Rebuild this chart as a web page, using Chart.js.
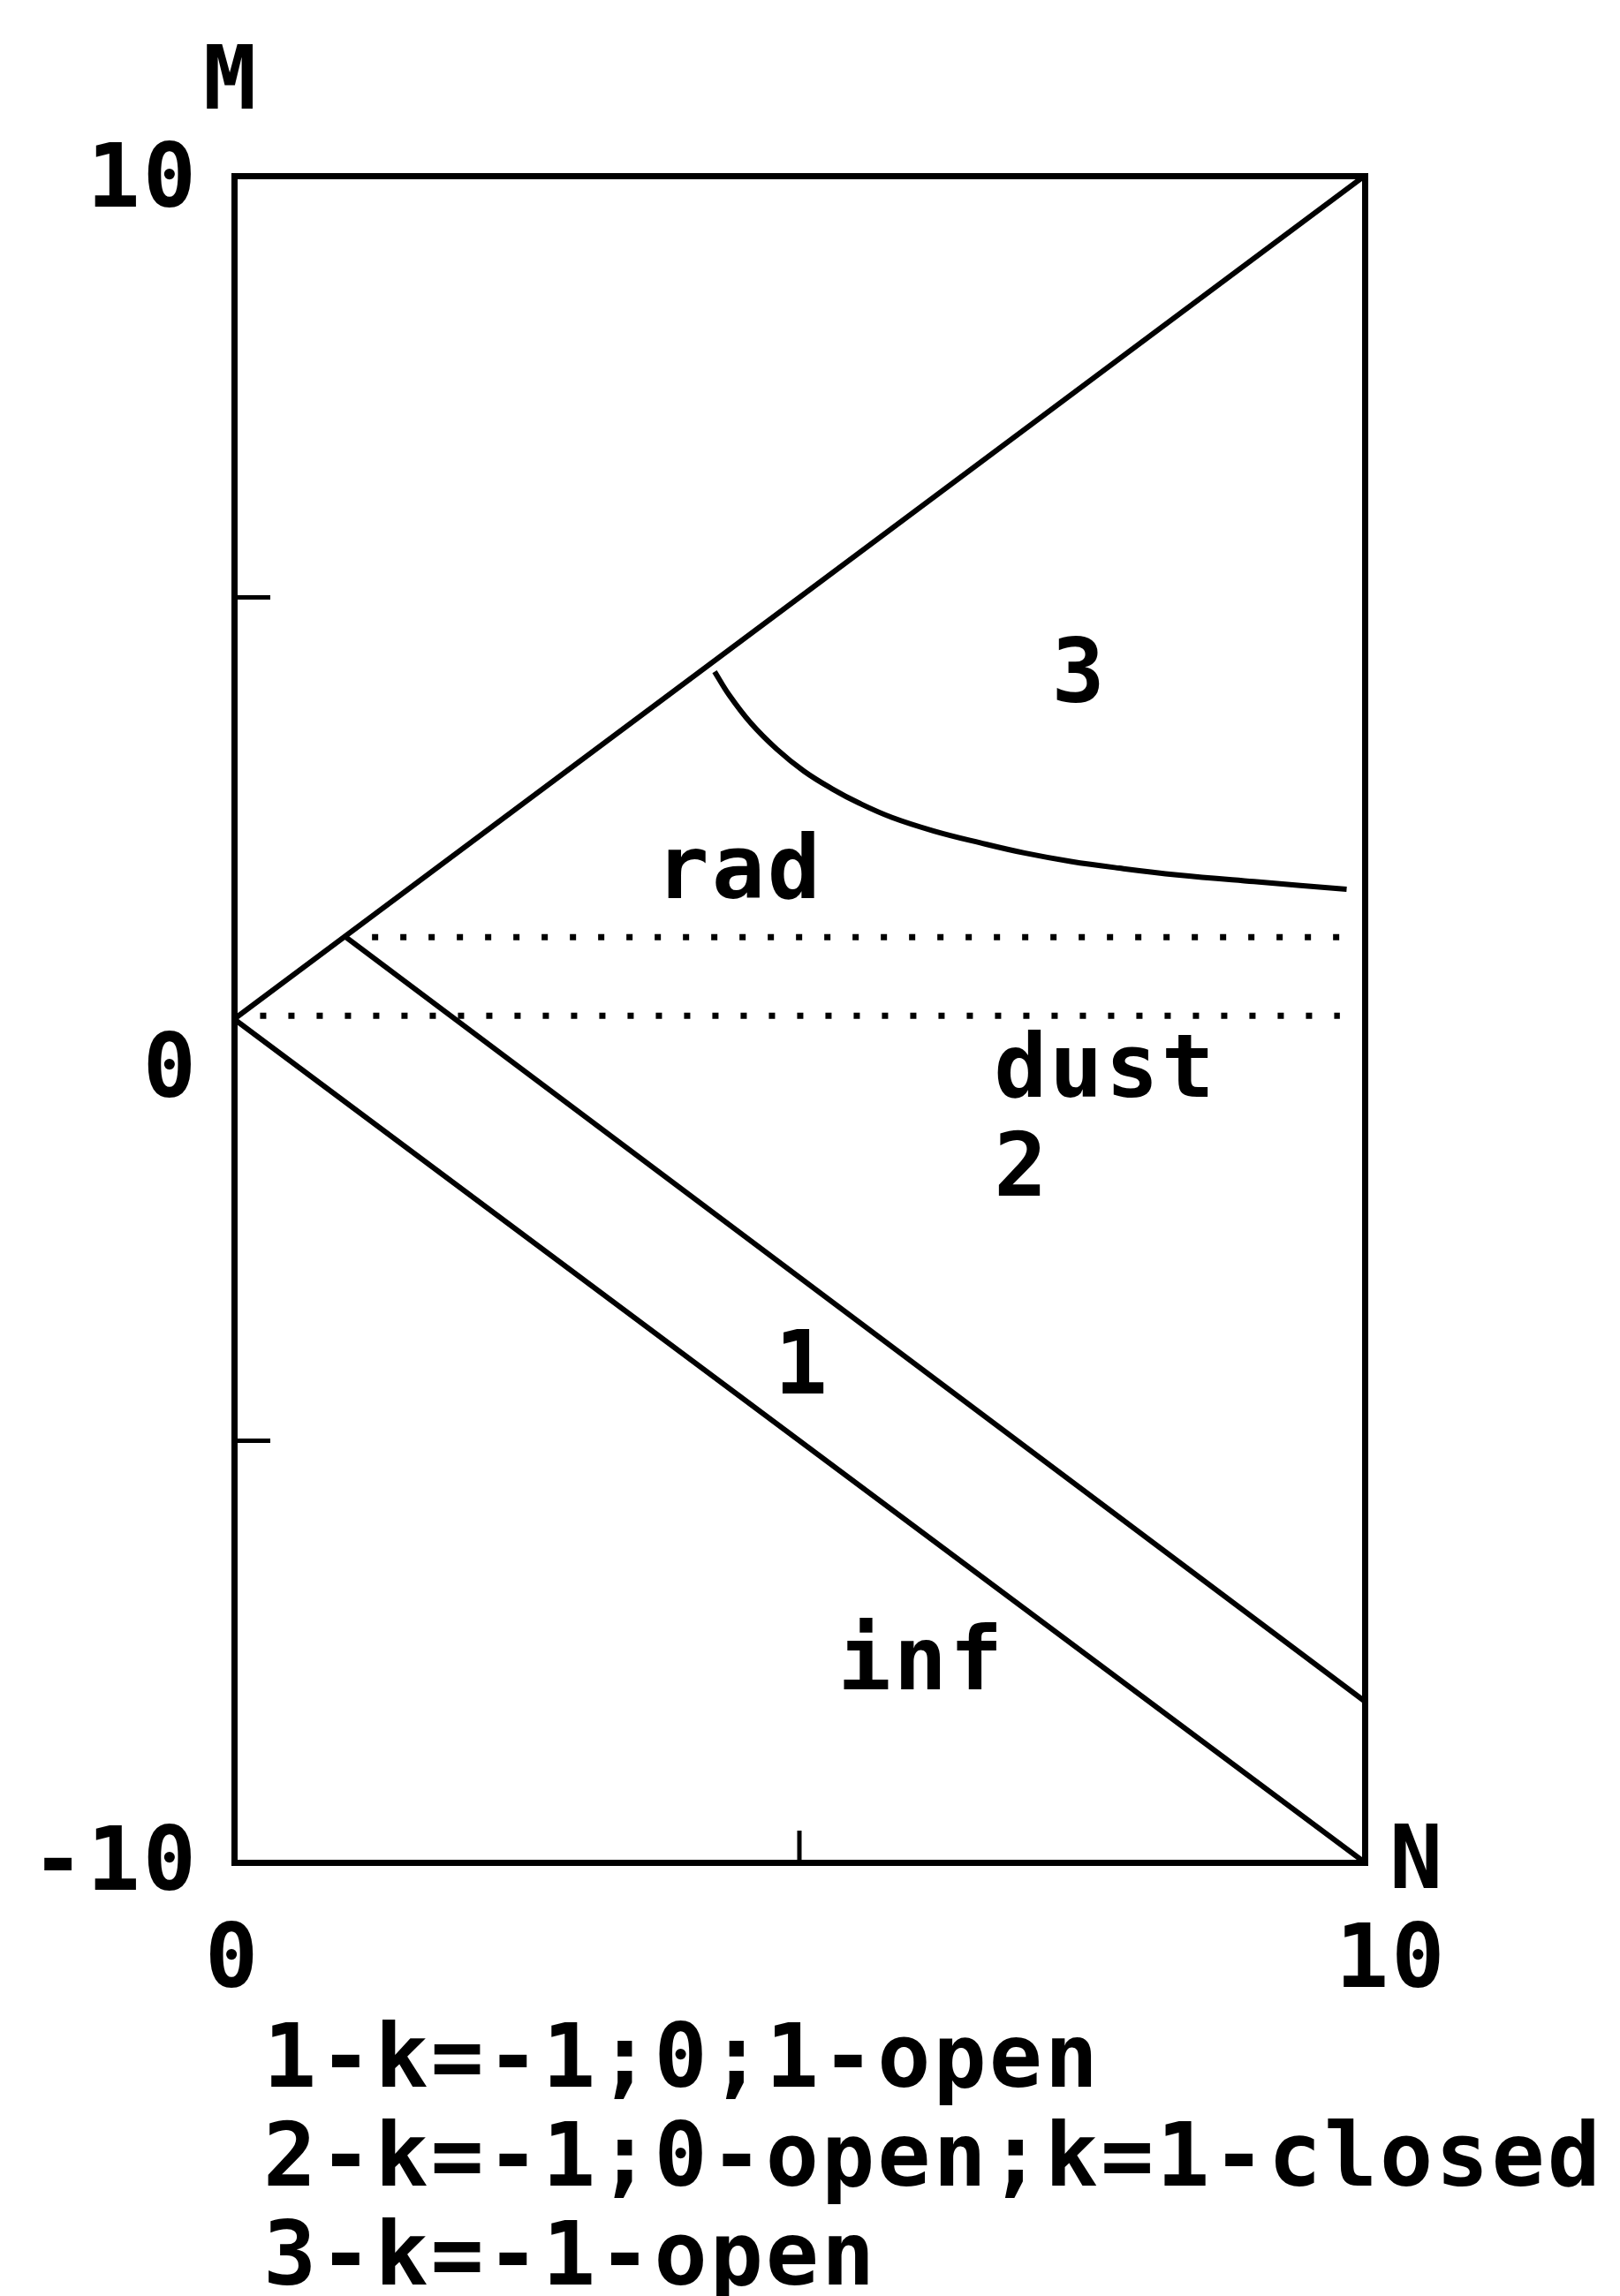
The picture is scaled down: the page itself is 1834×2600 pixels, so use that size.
<!DOCTYPE html>
<html>
<head>
<meta charset="utf-8">
<script src="https://cdn.jsdelivr.net/npm/chart.js@4.4.0/dist/chart.umd.min.js"></script>
<style>
  html, body { margin: 0; padding: 0; background: #fff; }
  #wrap { width: 1834px; height: 2600px; position: relative; }
</style>
</head>
<body>
<div id="wrap"><canvas id="grafica"></canvas></div>
<script>
// === DATOS ===
// ejes
const rangoN = [0, 10];
const rangoM = [-10, 10];
const marcasN = [5];
const marcasM = [-5, 5];
const etiquetasN = ["0", "10"];
const valoresEtiquetasN = [0, 10];
const etiquetasM = ["10", "0", "-10"];
const valoresEtiquetasM = [10, 0, -10];

// rectas
const rectaSupN = [0, 10];
const rectaSupM = [0, 10];
const rectaInfN = [0, 10];
const rectaInfM = [0, -10];
const rectaMedN = [0.99, 10];
const rectaMedM = [0.97, -8.09];

// líneas punteadas
const puntSupN = [1.22, 9.78];
const puntSupM = [0.97, 0.97];
const puntInfN = [0.23, 9.78];
const puntInfM = [0.04, 0.04];

// curva que separa la región 3
const curvaN = [4.25, 4.38, 4.57, 4.80, 5.04, 5.29, 5.53, 5.82, 6.19, 6.60, 6.99, 7.40, 7.83, 8.34, 9.02, 9.84];
const curvaM = [4.12, 3.84, 3.51, 3.20, 2.94, 2.73, 2.56, 2.39, 2.23, 2.09, 1.97, 1.87, 1.79, 1.71, 1.63, 1.54];

// etiquetas de las regiones (esquina inferior izquierda del texto)
const regiones = ["3", "rad", "dust", "2", "1", "inf"];
const regionesN = [7.23, 3.73, 6.72, 6.72, 4.78, 5.34];
const regionesM = [3.76, 1.43, -0.92, -2.09, -4.44, -7.95];

const leyenda = ["1-k=-1;0;1-open", "2-k=-1;0-open;k=1-closed", "3-k=-1-open"];

// helper: pares (x, y)
const pares = (xs, ys) => xs.map((x, i) => ({ x, y: ys[i] }));

const FUENTE = "bold 100px 'DejaVu Sans Mono', monospace";

// === PLUGIN: marcas interiores y textos ===
const textos = {
  id: "textos",
  afterDraw(chart) {
    const { ctx, chartArea: a, scales } = chart;
    const sx = scales.x, sy = scales.y;
    ctx.save();
    ctx.strokeStyle = "#000";
    ctx.lineWidth = 5;
    ctx.beginPath();
    marcasM.forEach(v => {
      const y = sy.getPixelForValue(v);
      ctx.moveTo(a.left, y);
      ctx.lineTo(a.left + 41, y);
    });
    marcasN.forEach(v => {
      const x = sx.getPixelForValue(v);
      ctx.moveTo(x, a.bottom);
      ctx.lineTo(x, a.bottom - 36);
    });
    ctx.stroke();

    ctx.fillStyle = "#000";
    ctx.font = FUENTE;
    ctx.letterSpacing = "3px";
    ctx.textBaseline = "alphabetic";

    // etiquetas del eje M
    const desfaseM = { "10": 35, "0": 88, "-10": 31 };
    ctx.textAlign = "right";
    etiquetasM.forEach((t, i) => {
      const y = sy.getPixelForValue(valoresEtiquetasM[i]);
      ctx.fillText(t, a.left - 40, y + desfaseM[t]);
    });

    // etiquetas del eje N
    ctx.textAlign = "left";
    etiquetasN.forEach((t, i) => {
      const x = sx.getPixelForValue(valoresEtiquetasN[i]);
      ctx.fillText(t, x - 33, a.bottom + 141);
    });

    // nombres de los ejes
    ctx.fillText("M", a.left - 35, a.top - 76);
    ctx.fillText("N", a.right + 28, a.bottom + 29);

    // regiones
    regiones.forEach((t, i) => {
      ctx.fillText(t, sx.getPixelForValue(regionesN[i]), sy.getPixelForValue(regionesM[i]));
    });

    // leyenda
    leyenda.forEach((t, i) => {
      ctx.fillText(t, a.left + 33, a.bottom + 254 + i * 112);
    });
    ctx.restore();
  }
};

const linea = (datos, extra) => Object.assign({
  data: datos,
  borderColor: "#000",
  borderWidth: 6,
  pointRadius: 0,
  fill: false,
  tension: 0
}, extra || {});

const ejeBorde = (pos) => ({
  type: "linear",
  position: pos,
  min: pos === "top" || pos === "bottom" ? rangoN[0] : rangoM[0],
  max: pos === "top" || pos === "bottom" ? rangoN[1] : rangoM[1],
  grid: { display: false, drawTicks: false, lineWidth: 7 },
  border: { display: true, width: 7, color: "#000" },
  ticks: { display: false },
  title: { display: false }
});

new Chart(document.getElementById("grafica").getContext("2d"), {
  type: "line",
  data: {
    datasets: [
      linea(pares(rectaSupN, rectaSupM)),
      linea(pares(rectaInfN, rectaInfM)),
      linea(pares(rectaMedN, rectaMedM)),
      linea(pares(puntSupN, puntSupM), { borderWidth: 7, borderDash: [7, 25], borderCapStyle: "butt" }),
      linea(pares(puntInfN, puntInfM), { borderWidth: 7, borderDash: [7, 25], borderCapStyle: "butt" }),
      linea(pares(curvaN, curvaM), { borderWidth: 6, tension: 0.4 })
    ]
  },
  options: {
    responsive: true,
    maintainAspectRatio: false,
    animation: false,
    devicePixelRatio: 1,
    layout: { padding: { left: 265, right: 289, top: 199, bottom: 491 } },
    plugins: { legend: { display: false }, tooltip: { enabled: false } },
    scales: {
      x: ejeBorde("bottom"),
      y: ejeBorde("left"),
      x2: ejeBorde("top"),
      y2: ejeBorde("right")
    }
  },
  plugins: [textos]
});
</script>
</body>
</html>
